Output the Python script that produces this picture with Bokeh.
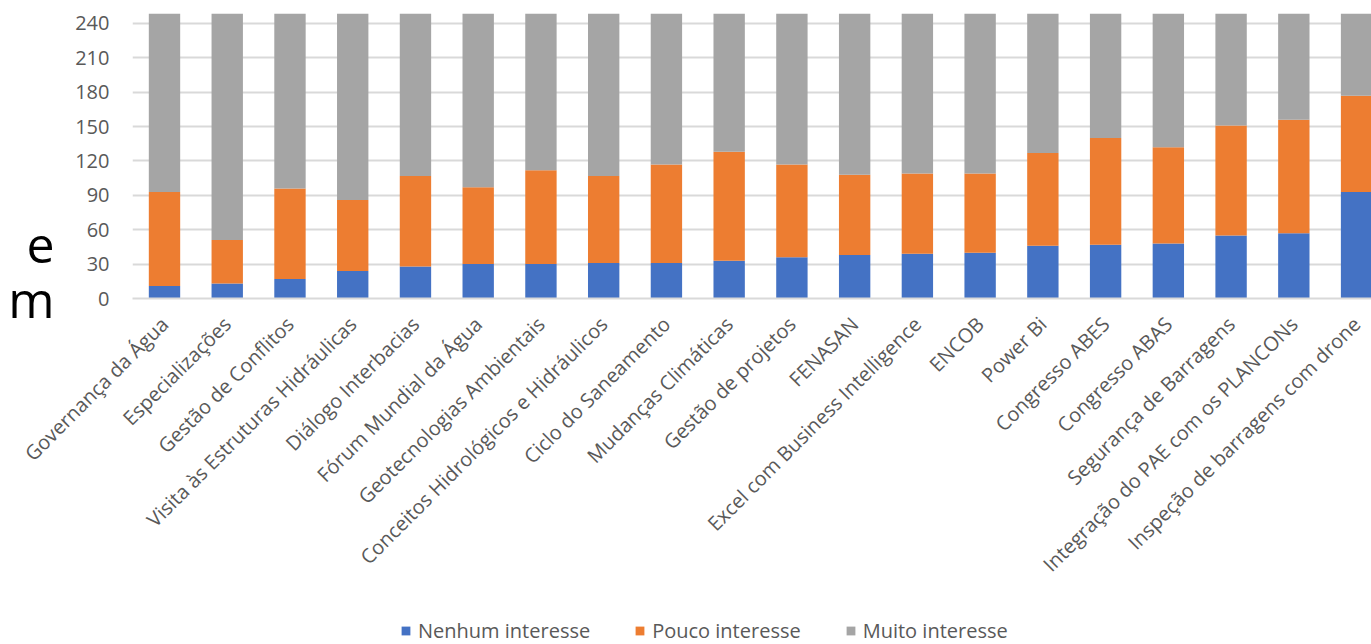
import math
from bokeh.plotting import figure
from bokeh.layouts import column
from bokeh.models import (ColumnDataSource, Range1d, FixedTicker, Legend,
                          LegendItem, LinearAxis)
from bokeh.embed import file_html
from bokeh.resources import INLINE

categories = [
    "Governança da Água", "Especializações", "Gestão de Conflitos",
    "Visita às Estruturas Hidráulicas", "Diálogo Interbacias",
    "Fórum Mundial da Água", "Geotecnologias Ambientais",
    "Conceitos Hidrológicos e Hidráulicos", "Ciclo do Saneamento",
    "Mudanças Climáticas", "Gestão de projetos", "FENASAN",
    "Excel com Business Intelligence", "ENCOB", "Power Bi",
    "Congresso ABES", "Congresso ABAS", "Segurança de Barragens",
    "Integração do PAE com os PLANCONs", "Inspeção de barragens com drone",
]
nenhum = [11, 13, 17, 24, 28, 30, 30, 31, 31, 33, 36, 38, 39, 40, 46, 47, 48, 55, 57, 93]
pouco = [82, 38, 79, 62, 79, 67, 82, 76, 86, 95, 81, 70, 70, 69, 81, 93, 84, 96, 99, 84]
muito = [156, 198, 153, 163, 142, 152, 137, 142, 132, 121, 132, 141, 140, 140, 122, 109, 117, 98, 93, 72]
series_names = ["Nenhum interesse", "Pouco interesse", "Muito interesse"]
y_ticks = [0, 30, 60, 90, 120, 150, 180, 210, 240]
side_text = {55: "e", 0: "m"}   # fragments of a cut-off slide text at the left

colors = ["#4472C4", "#ED7D31", "#A5A5A5"]
label_color = "#595959"
font = "Open Sans"
stack_cols = ["nenhum", "pouco", "muito"]

source = ColumnDataSource(dict(
    x=list(range(len(categories))),
    nenhum=nenhum, pouco=pouco, muito=muito,
))

MAIN_H = 614
LEG_H = 30
LEFT = 132

p = figure(
    width=1371, height=MAIN_H,
    output_backend="svg", toolbar_location=None,
    x_range=Range1d(-0.51, 19.238), y_range=Range1d(0, 248.7),
    min_border_left=LEFT, min_border_right=0,
    min_border_top=13, min_border_bottom=MAIN_H - 298,
)
p.outline_line_color = None
p.extra_y_ranges = {"side": Range1d(0, 285)}

rs = p.vbar_stack(stack_cols, x="x", width=0.5,
                  color=colors, line_color=None, source=source)

# axes
p.xaxis.ticker = FixedTicker(ticks=list(range(len(categories))))
p.xaxis.major_label_overrides = {i: c for i, c in enumerate(categories)}
p.xaxis.major_label_orientation = math.pi / 4
p.xaxis.major_tick_line_color = None
p.xaxis.major_tick_out = 0
p.xaxis.minor_tick_line_color = None
p.xaxis.axis_line_color = "#d9d9d9"
p.xaxis.axis_line_width = 2
p.xaxis.major_label_text_font = font
p.xaxis.major_label_text_font_size = "20px"
p.xaxis.major_label_text_color = label_color
p.xaxis.major_label_standoff = 22

p.yaxis.ticker = FixedTicker(ticks=y_ticks)
p.yaxis.major_tick_line_color = None
p.yaxis.major_tick_out = 0
p.yaxis.minor_tick_line_color = None
p.yaxis.axis_line_color = None
p.yaxis.major_label_text_font = font
p.yaxis.major_label_text_font_size = "20px"
p.yaxis.major_label_text_color = label_color
p.yaxis.major_label_standoff = 23

side_axis = LinearAxis(
    y_range_name="side",
    ticker=FixedTicker(ticks=list(side_text.keys())),
    major_label_overrides=side_text,
    axis_line_color=None, major_tick_line_color=None, minor_tick_line_color=None,
    major_tick_out=0, minor_tick_out=0, major_label_standoff=18,
    major_label_text_font=font, major_label_text_font_size="50px",
    major_label_text_color="black",
)
p.add_layout(side_axis, "left")

p.xgrid.grid_line_color = None
p.ygrid.ticker = FixedTicker(ticks=y_ticks)
p.ygrid.grid_line_color = "#d9d9d9"
p.ygrid.grid_line_width = 2

# legend strip below the chart (its proxy bars have zero width, so draw nothing)
lg = figure(
    width=1371, height=LEG_H, output_backend="svg", toolbar_location=None,
    x_range=Range1d(-0.51, 19.238), y_range=Range1d(0, 248.7),
    x_axis_type=None, y_axis_type=None,
    min_border_left=LEFT, min_border_right=0, min_border_top=0, min_border_bottom=0,
)
lg.outline_line_color = None
lg.grid.grid_line_color = None
lrs = lg.vbar_stack(stack_cols, x="x", width=0,
                    color=colors, line_color=None, source=source)
legend = Legend(
    items=[LegendItem(label=n, renderers=[r]) for n, r in zip(series_names, lrs)],
    orientation="horizontal", location=(400 - LEFT, 0),
    background_fill_alpha=0, border_line_color=None,
    padding=0, margin=0, spacing=44,
    glyph_width=11, glyph_height=11, label_standoff=7,
    label_text_font=font, label_text_font_size="20px",
    label_text_color=label_color,
)
lg.add_layout(legend)

layout = column(p, lg, spacing=0)
open("out.html", "w").write(file_html(layout, INLINE))
